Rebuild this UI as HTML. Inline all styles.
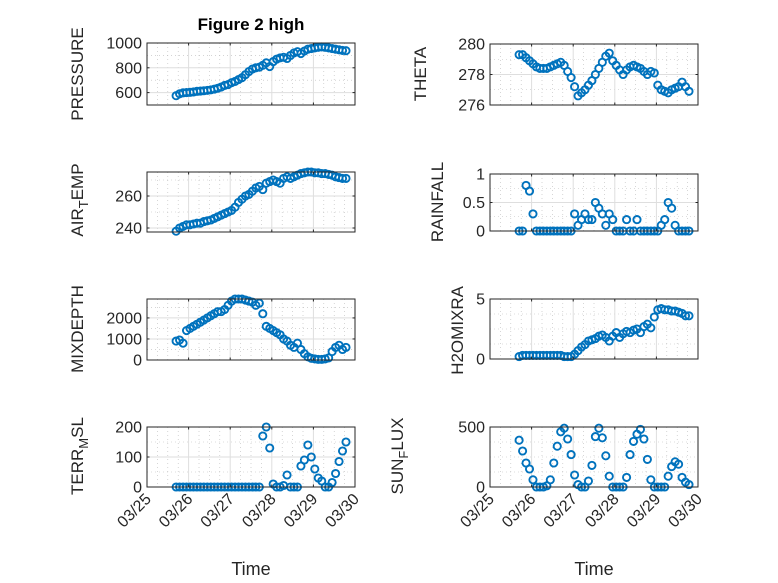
<!DOCTYPE html>
<html><head><meta charset="utf-8"><style>
body{margin:0;background:#fff;}
svg{display:block;font-family:"Liberation Sans",sans-serif;}
</style></head><body>
<svg id="fig" width="778" height="583" viewBox="0 0 778 583"></svg>
<script>
const days = ["03/25","03/26","03/27","03/28","03/29","03/30"];
const pressure = [575,590,598,600,602,605,610,612,615,618,622,628,635,645,658,665,680,690,705,720,745,770,790,800,805,820,840,810,850,870,880,885,875,900,920,930,915,935,950,955,960,965,968,965,960,955,950,945,940,938];
const airTemp = [238,240,241,242,242,242.5,243,243,244,244.5,245,246,247,248,249,250,251,253,256,258,260,261,263,265,266,264,268,269,270,269,268,271,272,271,272,273,274,274.5,275,275,274.5,274.5,274,274,273.5,273,272,271.5,271,271];
const mixDepth = [900,950,800,1400,1500,1600,1700,1800,1900,2000,2100,2200,2300,2300,2400,2600,2800,2900,2900,2900,2850,2800,2750,2600,2700,2200,1600,1500,1400,1300,1200,1000,900,700,600,800,500,300,150,80,50,30,30,50,100,400,600,700,500,600];
const terrMsl = [0,0,0,0,0,0,0,0,0,0,0,0,0,0,0,0,0,0,0,0,0,0,0,0,0,170,200,130,10,0,0,5,40,0,0,0,70,90,140,100,60,30,20,0,0,15,45,85,120,150];
const theta = [279.3,279.3,279.1,278.9,278.7,278.5,278.4,278.4,278.4,278.5,278.6,278.7,278.8,278.6,278.2,277.8,277.2,276.6,276.8,277.0,277.3,277.6,278.0,278.4,278.8,279.2,279.4,278.9,278.6,278.3,278.0,278.3,278.5,278.6,278.5,278.4,278.2,278.0,278.2,278.1,277.3,277.0,276.9,276.8,277.0,277.1,277.2,277.5,277.2,276.9];
const rainfall = [0,0,0.8,0.7,0.3,0,0,0,0,0,0,0,0,0,0,0,0.3,0.1,0.2,0.3,0.2,0.2,0.5,0.4,0.3,0.1,0.3,0.2,0,0,0,0.2,0,0,0.2,0,0,0,0,0,0,0.1,0.2,0.5,0.4,0.1,0,0,0,0];
const h2o = [0.2,0.3,0.3,0.3,0.3,0.3,0.3,0.3,0.3,0.3,0.3,0.3,0.3,0.2,0.2,0.2,0.4,0.7,1.0,1.2,1.5,1.6,1.7,1.9,2.0,1.8,1.5,1.9,2.2,1.8,2.1,2.3,2.2,2.4,2.5,2.2,2.7,2.9,2.6,3.5,4.1,4.2,4.1,4.1,4.0,4.0,3.9,3.8,3.6,3.6];
const sunFlux = [390,300,200,150,60,0,0,0,10,60,200,340,460,490,400,270,100,20,0,0,50,180,420,490,410,260,90,0,0,0,0,80,270,380,440,480,400,230,60,0,0,0,0,90,170,210,190,80,40,20];
const yTicksP = [600,800,1000], yTicksA=[240,260], yTicksM=[0,1000,2000], yTicksT=[0,100,200];
const yTicksTh=[276,278,280], yTicksR=[0,0.5,1], yTicksH=[0,5], yTicksS=[0,500];

const NS="http://www.w3.org/2000/svg";
const svg=document.getElementById('fig');
function el(tag,attrs,parent){const e=document.createElementNS(NS,tag);for(const k in attrs)e.setAttribute(k,attrs[k]);(parent||svg).appendChild(e);return e;}
const t0=0.70, dt=1/12;
const panels=[
 {name:'pressure',x0:147,x1:355,y0:43,y1:105,ymin:500,ymax:1000,data:pressure,ticks:yTicksP,minor:100,label:'PRESSURE',lx:83,ly:74},
 {name:'air-temp',x0:147,x1:355,y0:172,y1:232,ymin:237.5,ymax:275,data:airTemp,ticks:yTicksA,minor:10,label:['AIR','T','EMP'],lx:83,ly:200},
 {name:'mixdepth',x0:147,x1:355,y0:299,y1:360,ymin:0,ymax:2900,data:mixDepth,ticks:yTicksM,minor:500,label:'MIXDEPTH',lx:83,ly:329},
 {name:'terr-msl',x0:147,x1:355,y0:427,y1:487,ymin:0,ymax:200,data:terrMsl,ticks:yTicksT,minor:50,label:['TERR','M','SL'],lx:83,ly:456,xl:true},
 {name:'theta',x0:490,x1:698,y0:44,y1:105,ymin:276,ymax:280,data:theta,ticks:yTicksTh,minor:1,label:'THETA',lx:426,ly:74},
 {name:'rainfall',x0:490,x1:698,y0:174,y1:231,ymin:0,ymax:1,data:rainfall,ticks:yTicksR,minor:0.25,label:'RAINFALL',lx:443,ly:202},
 {name:'h2omixratio',x0:490,x1:698,y0:299,y1:359,ymin:0,ymax:5,data:h2o,ticks:yTicksH,minor:1.25,label:'H2OMIXRA',lx:463,ly:286,anchorEnd:true},
 {name:'sun-flux',x0:490,x1:698,y0:427,y1:487,ymin:0,ymax:500,data:sunFlux,ticks:yTicksS,minor:125,label:['SUN','F','LUX'],lx:403,ly:456,xl:true}
];
panels.forEach(p=>{
 const g=el('g',{});
 
 
 const xs=d=>p.x0+(p.x1-p.x0)*d/5;
 const ys=v=>p.y1-(p.y1-p.y0)*(v-p.ymin)/(p.ymax-p.ymin);
 for(let d=0;d<5;d+=0.25){ if(Math.abs(d-Math.round(d))<1e-6)continue;
  el('line',{x1:xs(d),x2:xs(d),y1:p.y0,y2:p.y1,stroke:'#bbb','stroke-width':0.6,'stroke-dasharray':'1 3'},g);}
 for(let v=Math.ceil(p.ymin/p.minor)*p.minor;v<p.ymax;v+=p.minor){
  if(p.ticks.some(t=>Math.abs(t-v)<1e-6))continue;
  el('line',{x1:p.x0,x2:p.x1,y1:ys(v),y2:ys(v),stroke:'#bbb','stroke-width':0.6,'stroke-dasharray':'1 3'},g);}
 days.forEach((d,i)=>{ if(i>0&&i<5) el('line',{x1:xs(i),x2:xs(i),y1:p.y0,y2:p.y1,stroke:'#dedede','stroke-width':1},g);});
 p.ticks.forEach(v=>el('line',{x1:p.x0,x2:p.x1,y1:ys(v),y2:ys(v),stroke:'#dedede','stroke-width':1},g));
 p.data.forEach((v,i)=>{
  const c=el('circle',{cx:xs(t0+i*dt),cy:ys(v),r:3.6,fill:'none',stroke:'#0072BD','stroke-width':1.9},g);
  
  
 });
 el('rect',{x:p.x0,y:p.y0,width:p.x1-p.x0,height:p.y1-p.y0,fill:'none',stroke:'#262626','stroke-width':1},g);
 days.forEach((d,i)=>{el('line',{x1:xs(i),x2:xs(i),y1:p.y1,y2:p.y1-2.5,stroke:'#262626'},g);el('line',{x1:xs(i),x2:xs(i),y1:p.y0,y2:p.y0+2.5,stroke:'#262626'},g);
  if(p.xl){const ax=xs(i)+5, ay=p.y1+13;
   const t=el('text',{x:ax,y:ay,'text-anchor':'end','font-size':16,fill:'#262626',transform:`rotate(-45 ${ax} ${ay})`},g);t.textContent=d;
   }
 });
 p.ticks.forEach(v=>{el('line',{x1:p.x0,x2:p.x0+2.5,y1:ys(v),y2:ys(v),stroke:'#262626'},g);el('line',{x1:p.x1,x2:p.x1-2.5,y1:ys(v),y2:ys(v),stroke:'#262626'},g);
  const t=el('text',{x:p.x0-5,y:ys(v)+5.5,'text-anchor':'end','font-size':16,fill:'#262626'},g);t.textContent=String(v);
  });
 const lab=el('text',{x:p.lx,y:p.ly,'text-anchor':p.anchorEnd?'end':'middle','font-size':17,fill:'#262626',transform:`rotate(-90 ${p.lx} ${p.ly})`},g);
 
 
 if(Array.isArray(p.label)){
  const a=el('tspan',{},lab);a.textContent=p.label[0];
  const b=el('tspan',{dy:5,'font-size':13},lab);b.textContent=p.label[1];
  const c=el('tspan',{dy:-5},lab);c.textContent=p.label[2];
 } else lab.textContent=p.label;
 if(p.xl){const t=el('text',{x:(p.x0+p.x1)/2,y:575,'text-anchor':'middle','font-size':18,fill:'#262626'},g);t.textContent='Time';
  }
});
const title=el('text',{x:251,y:30,'text-anchor':'middle','font-size':17,'font-weight':'bold',fill:'#000'});
title.textContent='Figure 2 high';


</script>
</body></html>
